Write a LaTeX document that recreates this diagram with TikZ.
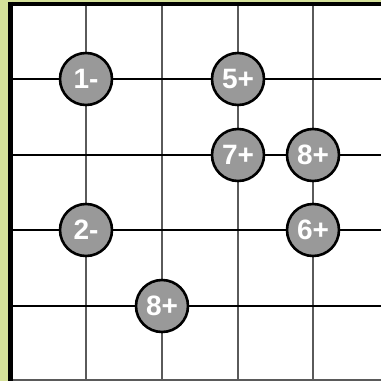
\documentclass[tikz,border=0pt]{standalone}
\usepackage{fontspec}
\setmainfont{Liberation Sans}
\definecolor{bgreen}{HTML}{D6E29A}
\definecolor{cellgray}{HTML}{999999}
\definecolor{vline}{HTML}{5A5A5A}
\begin{document}
\begin{tikzpicture}[x=1pt,y=-1pt,
  cage/.style={circle,draw=black,line width=2.6pt,fill=cellgray,minimum size=52pt,inner sep=0pt,
    text=white,font=\fontsize{28}{28}\selectfont\bfseries},
  vgrid/.style={draw=vline,line width=1.6pt},
  hgrid/.style={draw=black,line width=1.5pt}]
\useasboundingbox (0,0) rectangle (381,381);
\fill[bgreen] (0,0) rectangle (381,381);
\fill[white] (8,2) rectangle (381,381);
% grid
\foreach \x in {86,162,238,313} \draw[vgrid] (\x,4) -- (\x,381);
\foreach \y in {79,155,230,306} \draw[hgrid] (11,\y) -- (381,\y);
% bottom line
\draw[draw=vline,line width=2.4pt] (8,380) -- (381,380);
% border
\draw[black,line width=5.5pt] (10.5,1.8) -- (10.5,381);
\draw[black,line width=4.5pt] (8,4) -- (381,4);
% cages
\node[cage] (n1) at (86,79) {1-};
\node[cage] (n5) at (238,79) {5+};
\node[cage] (n7) at (238,155) {7+};
\node[cage] (n8a) at (313,155) {8+};
\node[cage] (n2) at (86,230) {2-};
\node[cage] (n6) at (313,230) {6+};
\node[cage] (n8b) at (162,306) {8+};
\end{tikzpicture}
\end{document}
